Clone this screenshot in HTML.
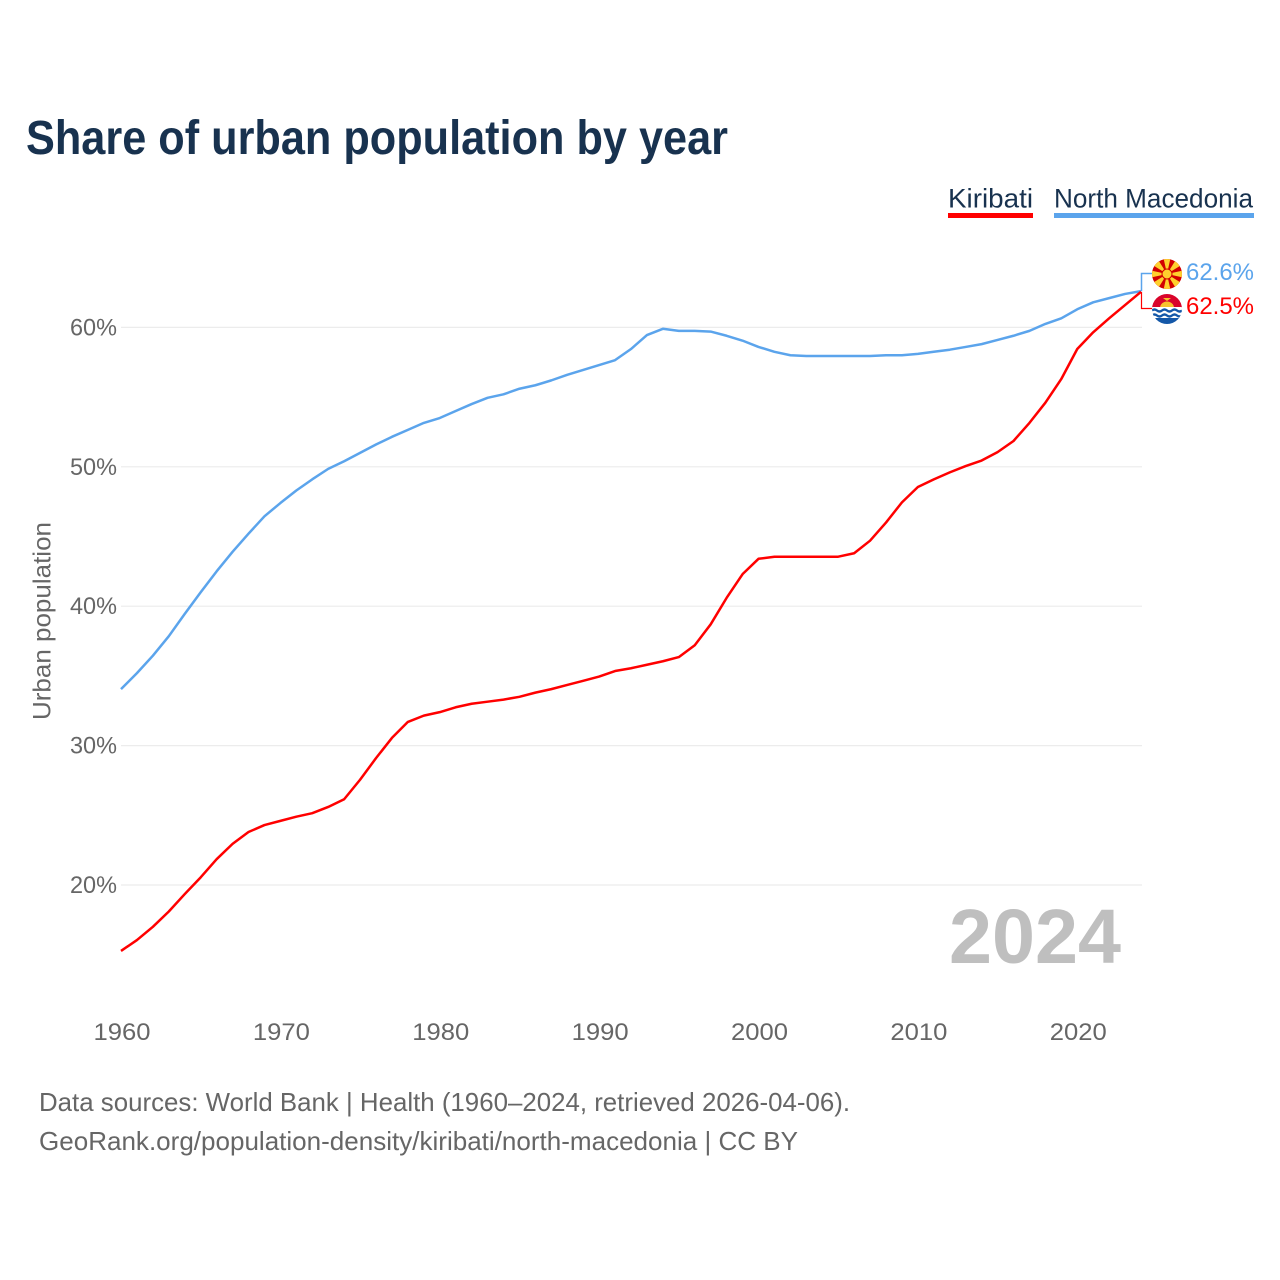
<!DOCTYPE html>
<html lang="en">
<head>
<meta charset="utf-8">
<title>Share of urban population by year</title>
<style>
html,body{margin:0;padding:0;background:#fff;width:1280px;height:1280px;overflow:hidden}
svg{display:block}
text{font-family:"Liberation Sans",sans-serif}
</style>
</head>
<body>
<svg id="chart" xmlns="http://www.w3.org/2000/svg" width="1280" height="1280" viewBox="0 0 1280 1280">
  <rect x="0" y="0" width="1280" height="1280" fill="#fff"/>
  <text x="26" y="154" font-size="48" font-weight="700" fill="#18324f" textLength="702" lengthAdjust="spacingAndGlyphs">Share of urban population by year</text>

  <g>
    <text x="948" y="207.5" font-size="27" fill="#18324f" textLength="85" lengthAdjust="spacingAndGlyphs">Kiribati</text>
    <rect x="948" y="213" width="85" height="5" fill="#ff0000"/>
  </g>
  <g>
    <text x="1054" y="207.5" font-size="27" fill="#18324f" textLength="199" lengthAdjust="spacingAndGlyphs">North Macedonia</text>
    <rect x="1054" y="213" width="200" height="5" fill="#5ba4ec"/>
  </g>

  <g id="grid"></g>
  <g id="yticks"></g>
  <g id="xticks"></g>
  <text transform="translate(50.5,621) rotate(-90)" text-anchor="middle" font-size="25" fill="#666" textLength="198" lengthAdjust="spacingAndGlyphs">Urban population</text>

  <text x="949" y="963" font-size="77" font-weight="700" fill="#bfbfbf" textLength="172" lengthAdjust="spacingAndGlyphs">2024</text>

  <g id="series"></g>
  <g id="endlabels"></g>

  <defs>
    <clipPath id="mk-clip"><circle cx="1167" cy="274" r="15"/></clipPath>
    <clipPath id="ki-clip"><circle cx="1167" cy="309" r="15"/></clipPath>
  </defs>

  <g clip-path="url(#mk-clip)">
    <rect x="1152" y="259" width="30" height="30" fill="#d20000"/>
    <path fill="#ffd02e" d="M1163.5,258 H1170.5 L1167,274 Z M1163.5,290 H1170.5 L1167,274 Z M1151,270.5 V277.5 L1167,274 Z M1183,270.5 V277.5 L1167,274 Z M1153.4,265.5 L1158.5,260.4 L1167,274 Z M1180.6,265.5 L1175.5,260.4 L1167,274 Z M1153.4,282.5 L1158.5,287.6 L1167,274 Z M1180.6,282.5 L1175.5,287.6 L1167,274 Z"/>
    <circle cx="1167" cy="274" r="5" fill="#ffd02e" stroke="#d20000" stroke-width="1"/>
  </g>

  <g clip-path="url(#ki-clip)">
    <rect x="1152" y="294" width="30" height="14" fill="#d9042b"/>
    <path fill="#f7c22f" d="M1160,308 A7,6.5 0 0 1 1174,308 Z"/>
    <path fill="#f7c22f" d="M1163,298 H1171 L1167,301 Z"/>
    <rect x="1152" y="307" width="30" height="18" fill="#fff"/>
    <path fill="none" stroke="#1458a8" stroke-width="2.4" d="M1152,310.5 q2.5,-2 5,0 t5,0 t5,0 t5,0 t5,0 t5,0 M1152,315.5 q2.5,-2 5,0 t5,0 t5,0 t5,0 t5,0 t5,0"/>
    <rect x="1152" y="318" width="30" height="7" fill="#1458a8"/>
  </g>

  <text x="39" y="1111" font-size="26" fill="#666" textLength="811" lengthAdjust="spacingAndGlyphs">Data sources: World Bank | Health (1960–2024, retrieved 2026-04-06).</text>
  <text x="39" y="1150" font-size="26" fill="#666" textLength="759" lengthAdjust="spacingAndGlyphs">GeoRank.org/population-density/kiribati/north-macedonia | CC BY</text>
</svg>

<script>
var startYear = 1960;
var yTickValues = [20, 30, 40, 50, 60];
var xTickYears = [1960, 1970, 1980, 1990, 2000, 2010, 2020];
var kiribatiValues = [15.27,16.05,17.0,18.1,19.35,20.55,21.85,22.95,23.8,24.3,24.6,24.9,25.15,25.6,26.15,27.55,29.1,30.55,31.7,32.15,32.4,32.75,33.0,33.15,33.3,33.5,33.8,34.05,34.35,34.65,34.95,35.35,35.55,35.8,36.05,36.35,37.2,38.7,40.6,42.3,43.4,43.55,43.55,43.55,43.55,43.55,43.8,44.7,46.0,47.45,48.55,49.1,49.6,50.05,50.45,51.05,51.85,53.15,54.6,56.3,58.45,59.65,60.65,61.6,62.55];
var macedoniaValues = [34.05,35.2,36.45,37.85,39.45,41.0,42.5,43.9,45.2,46.45,47.4,48.3,49.1,49.85,50.4,51.0,51.6,52.15,52.65,53.15,53.5,54.0,54.5,54.95,55.2,55.6,55.85,56.2,56.6,56.95,57.3,57.65,58.45,59.45,59.9,59.75,59.75,59.7,59.4,59.05,58.6,58.25,58.0,57.95,57.95,57.95,57.95,57.95,58.0,58.0,58.1,58.25,58.4,58.6,58.8,59.1,59.4,59.75,60.25,60.65,61.3,61.8,62.1,62.4,62.6];
var kiribatiLabel = "62.5%";
var macedoniaLabel = "62.6%";

var NS = "http://www.w3.org/2000/svg";
function xScale(year) { return 121 + (year - 1960) * (1141 - 121) / 64; }
function yScale(v) { return 885 - (v - 20) * 13.94; }
function make(tag, parent) {
  var el = document.createElementNS(NS, tag);
  parent.appendChild(el);
  return el;
}
function linePath(values) {
  var d = "";
  for (var i = 0; i < values.length; i++) {
    d += (i ? "L" : "M") + xScale(startYear + i).toFixed(2) + "," + yScale(values[i]).toFixed(2);
  }
  return d;
}

var grid = document.getElementById("grid");
var yticks = document.getElementById("yticks");
yTickValues.forEach(function (v) {
  var gl = make("line", grid);
  
  
  gl.setAttribute("x1", 121);
  gl.setAttribute("x2", 1142);
  gl.setAttribute("y1", yScale(v));
  gl.setAttribute("y2", yScale(v));
  gl.setAttribute("stroke", "#ececec");
  gl.setAttribute("stroke-width", "1.2");
  var t = make("text", yticks);
  
  
  t.setAttribute("x", 117);
  t.setAttribute("y", yScale(v) + 8);
  t.setAttribute("text-anchor", "end");
  t.setAttribute("font-size", "24");
  t.setAttribute("fill", "#666");
  t.setAttribute("textLength", "47");
  t.setAttribute("lengthAdjust", "spacingAndGlyphs");
  t.textContent = v + "%";
});

var xticks = document.getElementById("xticks");
xTickYears.forEach(function (y) {
  var t = make("text", xticks);
  
  
  t.setAttribute("x", xScale(y) + 1);
  t.setAttribute("y", 1040);
  t.setAttribute("text-anchor", "middle");
  t.setAttribute("font-size", "24");
  t.setAttribute("fill", "#666");
  t.setAttribute("textLength", "57");
  t.setAttribute("lengthAdjust", "spacingAndGlyphs");
  t.textContent = y;
});

var endlabels = document.getElementById("endlabels");
var endX = xScale(startYear + macedoniaValues.length - 1) + 0.5;

var mkLead = make("path", endlabels);


mkLead.setAttribute("d", "M" + endX + "," + yScale(macedoniaValues[macedoniaValues.length - 1]) + "V273.5H1152");
mkLead.setAttribute("fill", "none");
mkLead.setAttribute("stroke", "#5ba4ec");
mkLead.setAttribute("stroke-width", "1.5");

var kiLead = make("path", endlabels);


kiLead.setAttribute("d", "M" + endX + "," + yScale(kiribatiValues[kiribatiValues.length - 1]) + "V308.5H1152");
kiLead.setAttribute("fill", "none");
kiLead.setAttribute("stroke", "#ff0000");
kiLead.setAttribute("stroke-width", "1.2");

var series = document.getElementById("series");
var mkLine = make("path", series);


mkLine.setAttribute("d", linePath(macedoniaValues));
mkLine.setAttribute("fill", "none");
mkLine.setAttribute("stroke", "#5ba4ec");
mkLine.setAttribute("stroke-width", "2.5");
mkLine.setAttribute("stroke-linejoin", "round");

var kiLine = make("path", series);


kiLine.setAttribute("d", linePath(kiribatiValues));
kiLine.setAttribute("fill", "none");
kiLine.setAttribute("stroke", "#ff0000");
kiLine.setAttribute("stroke-width", "2.5");
kiLine.setAttribute("stroke-linejoin", "round");

var mkText = make("text", endlabels);


mkText.setAttribute("x", 1186);
mkText.setAttribute("y", 280);
mkText.setAttribute("font-size", "24");
mkText.setAttribute("fill", "#5ba4ec");
mkText.setAttribute("textLength", "68");
mkText.setAttribute("lengthAdjust", "spacingAndGlyphs");
mkText.textContent = macedoniaLabel;

var kiText = make("text", endlabels);


kiText.setAttribute("x", 1186);
kiText.setAttribute("y", 314);
kiText.setAttribute("font-size", "24");
kiText.setAttribute("fill", "#ff0000");
kiText.setAttribute("textLength", "68");
kiText.setAttribute("lengthAdjust", "spacingAndGlyphs");
kiText.textContent = kiribatiLabel;
</script>
</body>
</html>
